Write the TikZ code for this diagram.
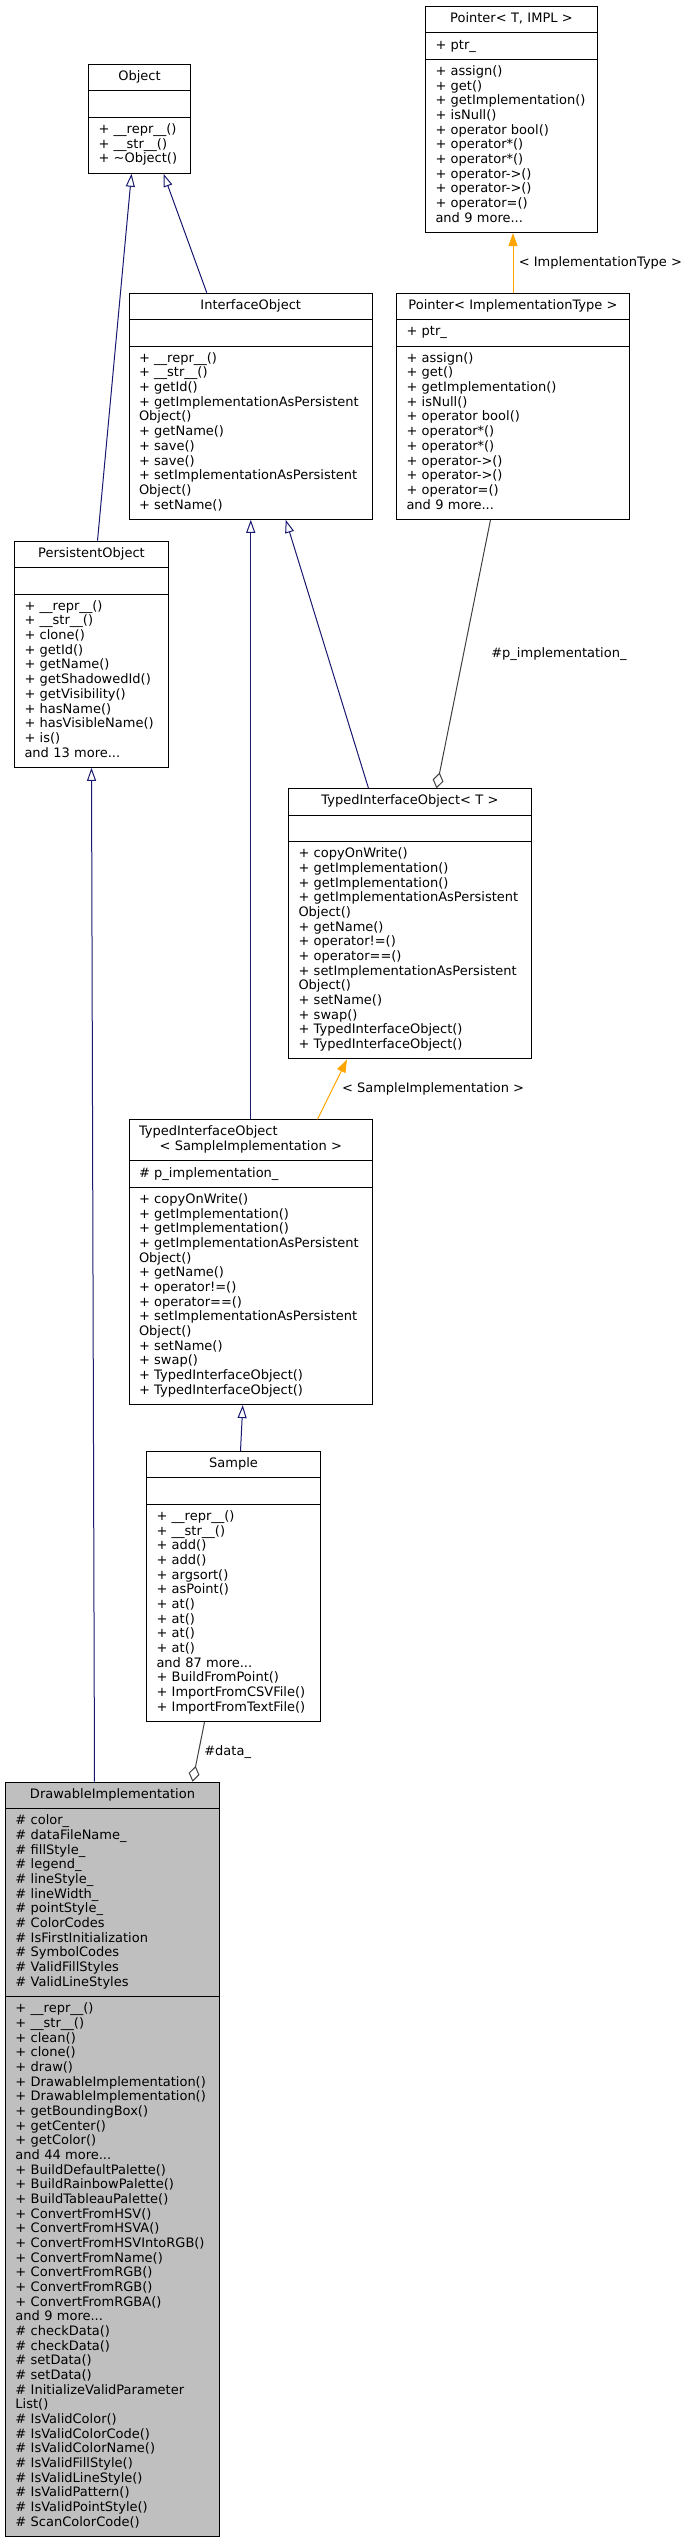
\documentclass[tikz,border=0pt]{standalone}
\usepackage{fontspec}
\setmainfont{DejaVu Sans}
\usetikzlibrary{shapes.multipart,arrows.meta}
\definecolor{kante}{HTML}{191970}
\definecolor{vorlage}{HTML}{FFA500}
\definecolor{teilgrau}{HTML}{404040}
\definecolor{aktiv}{HTML}{BFBFBF}
\tikzstyle{klasse}=[draw=black, line width=1pt, fill=white, rectangle split, rectangle split parts=3,
  anchor=north west, inner xsep=10pt, inner ysep=5.4pt, align=left, font=\fontsize{13}{14.67}\selectfont]
\tikzstyle{beschriftung}=[font=\fontsize{13}{14.67}\selectfont, anchor=west, text=black]
\tikzstyle{vererbung}=[draw=kante, line width=1pt, -{Triangle[open,length=13pt,width=9pt]}]
\tikzstyle{instanz}=[draw=vorlage, line width=1pt, -{Triangle[length=13pt,width=9pt]}]
\tikzstyle{aggregat}=[draw=teilgrau, line width=1pt, -{Diamond[open,length=16pt,width=11pt]}]

\begin{document}
\begin{tikzpicture}[x=1pt,y=-1pt]
			\useasboundingbox (0,0) rectangle (685,2539);
			% Klassen zeichnen
			\node[klasse, text width=82pt] (obj) at (88,64) {\hbox to\hsize{\hfil Object\strut\hfil}
				\nodepart{two}\strut
				\nodepart{three}\strut+ \_\_repr\_\_()\\+ \_\_str\_\_()\\+ \textasciitilde Object()\strut};
			\node[klasse, text width=152pt] (ptrT) at (425,6) {\hbox to\hsize{\hfil Pointer< T, IMPL >\strut\hfil}
				\nodepart{two}\strut+ ptr\_\strut
				\nodepart{three}\strut+ assign()\\+ get()\\+ getImplementation()\\+ isNull()\\+ operator bool()\\
				+ operator*()\\+ operator*()\\+ operator->()\\+ operator->()\\+ operator=()\\and 9 more...\strut};
			\node[klasse, text width=223.5pt] (iobj) at (128.5,292.7) {\hbox to\hsize{\hfil InterfaceObject\strut\hfil}
				\nodepart{two}\strut
				\nodepart{three}\strut+ \_\_repr\_\_()\\+ \_\_str\_\_()\\+ getId()\\+ getImplementationAsPersistent\\Object()\\
				+ getName()\\+ save()\\+ save()\\+ setImplementationAsPersistent\\Object()\\+ setName()\strut};
			\node[klasse, text width=213pt] (ptrI) at (396,292.7) {\hbox to\hsize{\hfil Pointer< ImplementationType >\strut\hfil}
				\nodepart{two}\strut+ ptr\_\strut
				\nodepart{three}\strut+ assign()\\+ get()\\+ getImplementation()\\+ isNull()\\+ operator bool()\\
				+ operator*()\\+ operator*()\\+ operator->()\\+ operator->()\\+ operator=()\\and 9 more...\strut};
			\node[klasse, text width=134pt] (pobj) at (14,540.7) {\hbox to\hsize{\hfil PersistentObject\strut\hfil}
				\nodepart{two}\strut
				\nodepart{three}\strut+ \_\_repr\_\_()\\+ \_\_str\_\_()\\+ clone()\\+ getId()\\+ getName()\\+ getShadowedId()\\
				+ getVisibility()\\+ hasName()\\+ hasVisibleName()\\+ is()\\and 13 more...\strut};
			\node[klasse, text width=223pt] (tioT) at (288,788.3) {\hbox to\hsize{\hfil TypedInterfaceObject< T >\strut\hfil}
				\nodepart{two}\strut
				\nodepart{three}\strut+ copyOnWrite()\\+ getImplementation()\\+ getImplementation()\\+ getImplementationAsPersistent\\
				Object()\\+ getName()\\+ operator!=()\\+ operator==()\\+ setImplementationAsPersistent\\Object()\\
				+ setName()\\+ swap()\\+ TypedInterfaceObject()\\+ TypedInterfaceObject()\strut};
			\node[klasse, text width=223.5pt] (tioS) at (128.5,1119.3) {\strut TypedInterfaceObject\\\hbox to\hsize{\hfil < SampleImplementation >\strut\hfil}
				\nodepart{two}\strut\# p\_implementation\_\strut
				\nodepart{three}\strut+ copyOnWrite()\\+ getImplementation()\\+ getImplementation()\\+ getImplementationAsPersistent\\
				Object()\\+ getName()\\+ operator!=()\\+ operator==()\\+ setImplementationAsPersistent\\Object()\\
				+ setName()\\+ swap()\\+ TypedInterfaceObject()\\+ TypedInterfaceObject()\strut};
			\node[klasse, text width=154pt] (smp) at (146,1451) {\hbox to\hsize{\hfil Sample\strut\hfil}
				\nodepart{two}\strut
				\nodepart{three}\strut+ \_\_repr\_\_()\\+ \_\_str\_\_()\\+ add()\\+ add()\\+ argsort()\\+ asPoint()\\
				+ at()\\+ at()\\+ at()\\+ at()\\and 87 more...\\+ BuildFromPoint()\\+ ImportFromCSVFile()\\+ ImportFromTextFile()\strut};
			\node[klasse, fill=aktiv, text width=194pt] (dimp) at (5,1781.7) {\hbox to\hsize{\hfil DrawableImplementation\strut\hfil}
				\nodepart{two}\strut\# color\_\\\# dataFileName\_\\\# fillStyle\_\\\# legend\_\\\# lineStyle\_\\\# lineWidth\_\\
				\# pointStyle\_\\\# ColorCodes\\\# IsFirstInitialization\\\# SymbolCodes\\\# ValidFillStyles\\\# ValidLineStyles\strut
				\nodepart{three}\strut+ \_\_repr\_\_()\\+ \_\_str\_\_()\\+ clean()\\+ clone()\\+ draw()\\+ DrawableImplementation()\\
				+ DrawableImplementation()\\+ getBoundingBox()\\+ getCenter()\\+ getColor()\\and 44 more...\\
				+ BuildDefaultPalette()\\+ BuildRainbowPalette()\\+ BuildTableauPalette()\\+ ConvertFromHSV()\\
				+ ConvertFromHSVA()\\+ ConvertFromHSVIntoRGB()\\+ ConvertFromName()\\+ ConvertFromRGB()\\
				+ ConvertFromRGB()\\+ ConvertFromRGBA()\\and 9 more...\\\# checkData()\\\# checkData()\\
				\# setData()\\\# setData()\\\# InitializeValidParameter\\List()\\\# IsValidColor()\\
				\# IsValidColorCode()\\\# IsValidColorName()\\\# IsValidFillStyle()\\\# IsValidLineStyle()\\
				\# IsValidPattern()\\\# IsValidPointStyle()\\\# ScanColorCode()\strut};
			% Vererbung zeichnen
			\draw[vererbung] ([xshift=6pt]pobj.north) -- ([xshift=-8pt]obj.south);
			\draw[vererbung] ([xshift=-44pt]iobj.north) -- ([xshift=24pt]obj.south);
			\draw[vererbung] (tioS.north) -- (iobj.south);
			\draw[vererbung] ([xshift=-41.5pt]tioT.north) -- ([xshift=35pt]iobj.south);
			\draw[vererbung] ([xshift=7pt]smp.north) -- ([xshift=-8pt]tioS.south);
			\draw[vererbung] ([xshift=-18pt]dimp.north) -- (pobj.south);
			% Vorlagen zeichnen
			\draw[instanz] (ptrI.north) -- (ptrI.north |- ptrT.south)
				node[beschriftung, midway, xshift=2pt] {< ImplementationType >};
			\draw[instanz] ([xshift=66.75pt]tioS.north) -- ([xshift=-63pt]tioT.south)
				node[beschriftung, midway, xshift=6pt] {< SampleImplementation >};
			% Aggregationen zeichnen
			\draw[aggregat] ([xshift=-22.5pt]ptrI.south) -- ([xshift=26.5pt]tioT.north)
				node[beschriftung, midway, xshift=24pt] {\#p\_implementation\_};
			\draw[aggregat] ([xshift=-29pt]smp.south) -- ([xshift=80pt]dimp.north)
				node[beschriftung, midway, xshift=2pt] {\#data\_};
		\end{tikzpicture}
\end{document}
